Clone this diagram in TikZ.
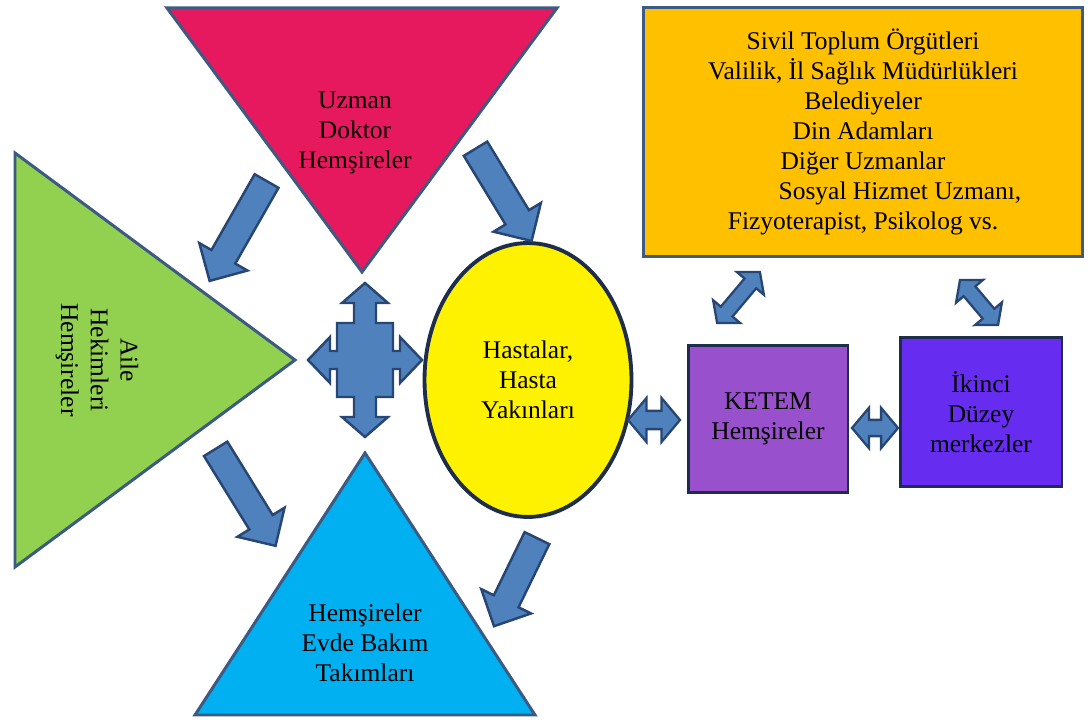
\documentclass[tikz,border=0pt]{standalone}
\usepackage{fontspec}
\setmainfont{Liberation Serif}
\usepackage{tikz}
\usetikzlibrary{shapes.geometric, shapes.arrows}
\definecolor{pinkfill}{RGB}{230,25,95}
\definecolor{greenfill}{RGB}{146,208,80}
\definecolor{cyanfill}{RGB}{0,176,240}
\definecolor{orangefill}{RGB}{255,192,0}
\definecolor{ketemfill}{RGB}{153,80,204}
\definecolor{ikincifill}{RGB}{102,45,240}
\definecolor{arrowfill}{RGB}{79,129,189}
\definecolor{arrowline}{RGB}{40,70,115}
\definecolor{edgeline}{RGB}{60,90,130}
\definecolor{darkline}{RGB}{30,45,75}
\tikzset{
  lbl/.style={font=\fontsize{14.5pt}{17pt}\selectfont, align=center},
  tri/.style={draw=edgeline, line width=1.7pt, line join=miter},
  box/.style={rectangle, draw=darkline, line width=1.7pt},
  fatarrow/.style={single arrow, draw=arrowline, fill=arrowfill, line width=1.4pt,
    inner sep=0.25cm, single arrow head extend=0.28cm},
  twinarrow/.style={double arrow, draw=arrowline, fill=arrowfill, line width=1.3pt,
    double arrow tip angle=100}
}

\begin{document}
\begin{tikzpicture}[x=0.02cm, y=-0.02cm]
\useasboundingbox (0,0) rectangle (1088,722);

% the three triangles
\draw[tri, fill=pinkfill] (167,8) -- (557,8) -- (362,272) -- cycle;
\draw[tri, fill=greenfill] (15,153) -- (295,360) -- (15,567) -- cycle;
\draw[tri, fill=cyanfill] (365,453) -- (535,715) -- (195,715) -- cycle;

\node[lbl] (uzman) at (355,133) {Uzman\\Doktor\\Hemşireler};
\node[lbl, rotate=-90] (aile) at (97,360) {Aile\\Hekimleri\\Hemşireler};
\node[lbl] (evde) at (365,643) {Hemşireler\\Evde Bakım\\Takımları};

\node[ellipse, draw=darkline, fill=yellow, line width=2.2pt, minimum width=4.14cm,
  minimum height=5.48cm, lbl] (hasta) at (528,380) {Hastalar,\\Hasta\\Yakınları};

\node[box, draw=edgeline, fill=orangefill, minimum width=8.8cm, minimum height=4.98cm, lbl]
  (kurum) at (863,132) {Sivil Toplum Örgütleri\\Valilik, İl Sağlık Müdürlükleri\\Belediyeler\\
  Din Adamları\\Diğer Uzmanlar\\\hspace*{1.48cm}Sosyal Hizmet Uzmanı,\\Fizyoterapist, Psikolog vs.};
\node[box, fill=ketemfill, minimum width=3.2cm, minimum height=2.96cm, lbl]
  (ketem) at (768,419) {KETEM\\Hemşireler};
\node[box, fill=ikincifill, minimum width=3.24cm, minimum height=3cm, lbl]
  (ikinci) at (981,412) {İkinci\\Düzey\\merkezler};

% block arrows
\node[fatarrow, minimum height=2.3cm, rotate=-119.7] (a1) at (241.5,225) {};
\node[fatarrow, minimum height=2.16cm, rotate=-58.7] (a2) at (500,189) {};
\node[fatarrow, minimum height=2.28cm, rotate=-58.3] (a3) at (242,491.5) {};
\node[fatarrow, minimum height=1.96cm, rotate=-116] (a4) at (518.5,576) {};

\node[twinarrow, inner sep=0.16cm, double arrow head extend=0.26cm, minimum height=1.04cm] (d1) at (654,420) {};
\node[twinarrow, inner sep=0.14cm, double arrow head extend=0.24cm, minimum height=0.92cm] (d2) at (875,428) {};
\node[twinarrow, inner sep=0.13cm, double arrow head extend=0.2cm, minimum height=1.33cm, rotate=49.9] (d3) at (738.5,297.5) {};
\node[twinarrow, inner sep=0.13cm, double arrow head extend=0.2cm, minimum height=1.18cm, rotate=-49.8] (d4) at (979,302.5) {};

% four way arrow
\draw[fill=arrowfill, draw=arrowline, line width=1.4pt, line join=miter, shift={(365,360)}]
  (0,-77) -- (23,-57) -- (11,-57) -- (11,-37) -- (28,-37) -- (28,-9) -- (35,-9) -- (35,-23)
  -- (57,0) -- (35,23) -- (35,9) -- (28,9) -- (28,37) -- (11,37) -- (11,57) -- (23,57)
  -- (0,77) -- (-23,57) -- (-11,57) -- (-11,37) -- (-28,37) -- (-28,9) -- (-35,9) -- (-35,23)
  -- (-57,0) -- (-35,-23) -- (-35,-9) -- (-28,-9) -- (-28,-37) -- (-11,-37) -- (-11,-57)
  -- (-23,-57) -- cycle;
\end{tikzpicture}
\end{document}
